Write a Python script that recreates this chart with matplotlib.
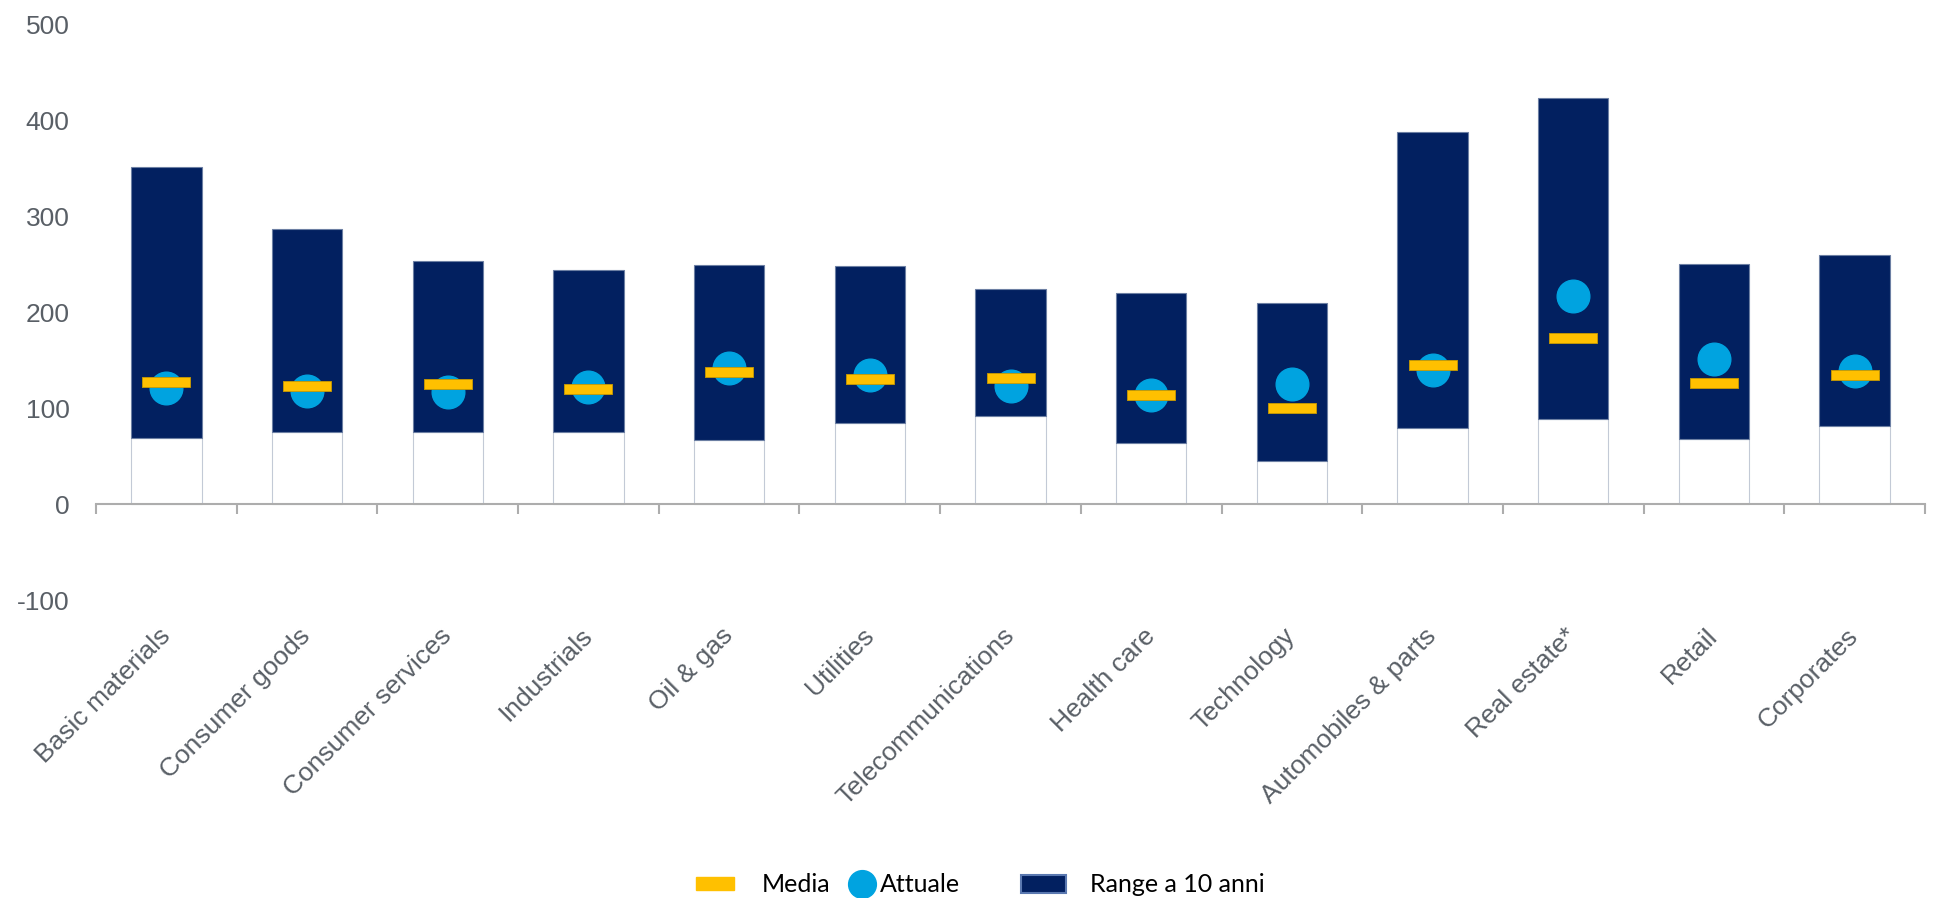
import matplotlib
matplotlib.use("Agg")
import matplotlib.pyplot as plt
from matplotlib.patches import Patch
from matplotlib.lines import Line2D
from matplotlib.transforms import ScaledTranslation
import numpy as np

categories = ["Basic materials", "Consumer goods", "Consumer services", "Industrials",
              "Oil & gas", "Utilities", "Telecommunications", "Health care", "Technology",
              "Automobiles & parts", "Real estate*", "Retail", "Corporates"]
range_min = [69, 75, 75, 75, 67, 85, 92, 64, 45, 79, 89, 68, 82]
range_max = [352, 287, 254, 244, 250, 248, 225, 220, 210, 388, 424, 251, 260]
media = [127, 123, 125, 120, 138, 131, 132, 114, 100, 145, 173, 126, 135]
attuale = [121, 118, 117, 122, 142, 135, 123, 114, 125, 140, 217, 151, 139]
yticks = [-100, 0, 100, 200, 300, 400, 500]

NAVY = "#022060"
YELLOW = "#FFC000"
CYAN = "#00A3E0"
GRAY_TXT = "#595F66"
AXIS_GRAY = "#ADADAD"

W, H = 1937, 898
fig = plt.figure(figsize=(W / 100, H / 100), dpi=100)
ax = fig.add_axes([96 / W, 1 - 600 / H, (1925 - 96) / W, (600 - 25) / H])

x = np.arange(len(categories))
lo = np.array(range_min)
hi = np.array(range_max)

ax.bar(x, lo, width=0.5, color="white", edgecolor="#C3CAD6", linewidth=0.8, zorder=2)
ax.bar(x, hi - lo, bottom=lo, width=0.5, color=NAVY, edgecolor="#6C7FA3", linewidth=0.8, zorder=3)

ax.plot(x, attuale, linestyle="none", marker="o", markersize=23.5,
        markerfacecolor=CYAN, markeredgecolor=CYAN, zorder=4)
dash = [(-1, -0.22), (1, -0.22), (1, 0.22), (-1, 0.22), (-1, -0.22)]
ax.plot(x, media, linestyle="none", marker=dash, markersize=35,
        markerfacecolor=YELLOW, markeredgecolor="#C99A00", markeredgewidth=0.6, zorder=5)

ax.set_xlim(-0.5, len(categories) - 0.5)
ax.set_ylim(-100, 500)

for s in ["top", "right", "left"]:
    ax.spines[s].set_visible(False)
ax.spines["bottom"].set_position(("data", 0))
ax.spines["bottom"].set_color(AXIS_GRAY)
ax.spines["bottom"].set_linewidth(1.5)

ax.set_xticks(np.arange(-0.5, len(categories), 1.0))
ax.set_xticklabels([])
ax.tick_params(axis="x", which="major", length=7, width=1.5, color=AXIS_GRAY, direction="out")
ax.set_xticks(x, minor=True)
ax.set_xticklabels(categories, minor=True, rotation=45, ha="right", va="top",
                   rotation_mode="anchor", fontsize=19, color=GRAY_TXT,
                   family=["Liberation Sans", "DejaVu Sans"])
ax.tick_params(axis="x", which="minor", length=0, pad=86)
for lbl in ax.get_xticklabels(minor=True):
    lbl.set_transform(lbl.get_transform() + ScaledTranslation(-0.085, 0, fig.dpi_scale_trans))

ax.set_yticks(yticks)
ax.set_yticklabels([str(v) for v in yticks], fontsize=19, color=GRAY_TXT,
                   family=["Liberation Sans", "DejaVu Sans"])
ax.tick_params(axis="y", length=0, pad=19)

# Legend: three single-entry legends laid out like the original
leg_font = {"family": ["Lato", "DejaVu Sans"], "size": 18}
yleg = 1 - 885 / H
h_media = Patch(facecolor=YELLOW, edgecolor=YELLOW)
h_att = Line2D([], [], linestyle="none", marker="o", markersize=20,
               markerfacecolor=CYAN, markeredgecolor=CYAN)
h_range = Patch(facecolor=NAVY, edgecolor="#5A78B0", linewidth=1.5)

l1 = fig.legend(handles=[h_media], labels=["Media"], loc="center left",
                bbox_to_anchor=(696 / W, yleg), frameon=False, prop=leg_font,
                handlelength=1.52, handleheight=0.44, handletextpad=1.12,
                borderpad=0, borderaxespad=0)
l2 = fig.legend(handles=[h_att], labels=["Attuale"], loc="center left",
                bbox_to_anchor=(848 / W, yleg), frameon=False, prop=leg_font,
                handlelength=1.1, handletextpad=0.16, borderpad=0, borderaxespad=0)
l3 = fig.legend(handles=[h_range], labels=["Range a 10 anni"], loc="center left",
                bbox_to_anchor=(1021 / W, yleg), frameon=False, prop=leg_font,
                handlelength=1.8, handleheight=0.76, handletextpad=0.96,
                borderpad=0, borderaxespad=0)
for lg in (l1, l2, l3):
    for t in lg.get_texts():
        t.set_color("black")

fig.savefig("out.png", dpi=100, facecolor="white")
